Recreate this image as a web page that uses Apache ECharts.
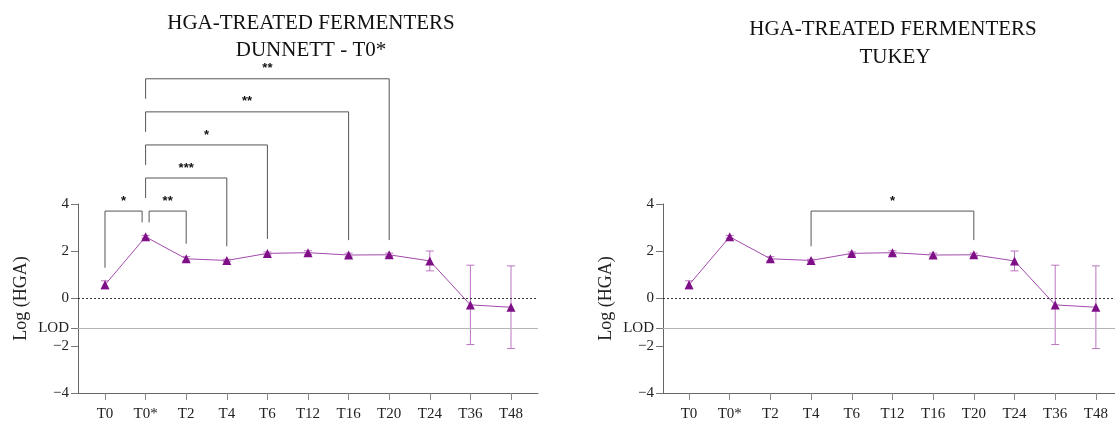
<!DOCTYPE html>
<html>
<head>
<meta charset="utf-8">
<title>HGA-treated fermenters</title>
<script src="https://cdn.jsdelivr.net/npm/echarts@6/dist/echarts.min.js"></script>
<style>
  html, body { margin: 0; padding: 0; background: #fff; }
  #chart { width: 1115px; height: 422px; }
</style>
</head>
<body>
<div id="chart"></div>
<script>
// Sampling times
const categories = ['T0', 'T0*', 'T2', 'T4', 'T6', 'T12', 'T16', 'T20', 'T24', 'T36', 'T48'];
// Mean log(HGA) and its spread at each time
const meanLog = [0.58, 2.61, 1.68, 1.61, 1.91, 1.94, 1.84, 1.85, 1.59, -0.27, -0.37];
const sdLog = [0.17, 0.06, 0.09, 0.05, 0.06, 0.08, 0.08, 0.07, 0.42, 1.68, 1.75];
// Limit of detection (log scale)
const lodLog = -1.27;
const yTicks = [-4, -2, 0, 2, 4];
// Significant comparisons: [from index, to index, stars]
const dunnettTests = [[0, 1, '*'], [1, 2, '**'], [1, 3, '***'], [1, 4, '*'], [1, 6, '**'], [1, 7, '**']];
const tukeyTests = [[3, 7, '*']];

const SERIF = '"Liberation Serif", "DejaVu Serif", serif';
const LINE_COLOR = '#a24aab';
const MARK_COLOR = '#7f0f86';
const ERR_COLOR = '#bb74c1';
const BRACKET_BASE = 3.7;   // y of the lowest bracket, in log units
const BRACKET_STEP = 1.4;   // spacing between stacked brackets

// Stack comparison brackets so overlapping spans sit on separate levels
function layoutBrackets(tests) {
  const items = tests.map(t => ({ from: t[0], to: t[1], label: t[2] }))
    .sort((a, b) => (a.to - a.from) - (b.to - b.from));
  const placed = [];
  items.forEach(b => {
    let level = 0;
    while (placed.some(p => p.level === level && Math.max(p.from, b.from) < Math.min(p.to, b.to))) level++;
    b.level = level;
    placed.forEach(p => {
      if (p.level === level && p.to === b.from) { p.shiftTo = true; b.shiftFrom = true; }
      if (p.level === level && p.from === b.to) { p.shiftFrom = true; b.shiftTo = true; }
    });
    b.shortFrom = placed.some(p => p.level < level && (p.from === b.from || p.to === b.from));
    b.shortTo = placed.some(p => p.level < level && (p.from === b.to || p.to === b.to));
    placed.push(b);
  });
  return placed;
}

function bracketSeries(tests, idx) {
  const layout = layoutBrackets(tests);
  return {
    type: 'custom', xAxisIndex: idx, yAxisIndex: idx, clip: false, silent: true, z: 5,
    data: layout.map(b => [b.from, b.to, BRACKET_BASE + b.level * BRACKET_STEP]),
    encode: { x: [0, 1], y: 2 },
    renderItem(params, api) {
      const b = layout[params.dataIndex];
      const barY = api.coord([0, api.value(2)])[1];
      let x1 = api.coord([b.from, 0])[0];
      let x2 = api.coord([b.to, 0])[0];
      if (b.shiftFrom) x1 += 3.5;
      if (b.shiftTo) x2 -= 3.5;
      const legEnd = i => api.coord([i, meanLog[i] + sdLog[i]])[1] - 13;
      const y1 = b.shortFrom ? barY + 20 : legEnd(b.from);
      const y2 = b.shortTo ? barY + 20 : legEnd(b.to);
      return {
        type: 'group',
        children: [
          { type: 'polyline', shape: { points: [[x1, y1], [x1, barY], [x2, barY], [x2, y2]] },
            style: { stroke: '#555', fill: null, lineWidth: 1 } },
          { type: 'text', x: (x1 + x2) / 2, y: barY - 10,
            style: { text: b.label, textAlign: 'center', textVerticalAlign: 'middle',
                     font: 'bold 13px "Liberation Sans", sans-serif', fill: '#111' } }
        ]
      };
    }
  };
}

function errorSeries(idx) {
  return {
    type: 'custom', xAxisIndex: idx, yAxisIndex: idx, silent: true, z: 3,
    data: meanLog.map((m, i) => [i, m - sdLog[i], m + sdLog[i]]),
    encode: { x: 0, y: [1, 2] },
    renderItem(params, api) {
      const lo = api.coord([api.value(0), api.value(1)]);
      const hi = api.coord([api.value(0), api.value(2)]);
      const w = 4;
      const st = { stroke: ERR_COLOR, lineWidth: 1 };
      return {
        type: 'group',
        children: [
          { type: 'line', shape: { x1: lo[0], y1: lo[1], x2: hi[0], y2: hi[1] }, style: st },
          { type: 'line', shape: { x1: lo[0] - w, y1: lo[1], x2: lo[0] + w, y2: lo[1] }, style: st },
          { type: 'line', shape: { x1: hi[0] - w, y1: hi[1], x2: hi[0] + w, y2: hi[1] }, style: st }
        ]
      };
    }
  };
}

function meanSeries(idx) {
  return {
    type: 'line', xAxisIndex: idx, yAxisIndex: idx, z: 4,
    data: meanLog.map((m, i) => [i, m]),
    symbol: 'triangle', symbolSize: 9, showSymbol: true,
    itemStyle: { color: MARK_COLOR },
    lineStyle: { color: LINE_COLOR, width: 1 },
    markLine: {
      silent: true, symbol: ['none', 'none'], label: { show: false },
      data: [
        { yAxis: 0, lineStyle: { type: [2, 2], color: '#333', width: 1 } },
        { yAxis: lodLog, lineStyle: { type: 'solid', color: '#b4b4b4', width: 1 } }
      ]
    }
  };
}

const idxTicks = categories.map((c, i) => i);

function xAxis(idx, min, max) {
  return {
    type: 'value', gridIndex: idx, min: min, max: max,
    splitLine: { show: false },
    axisLine: { show: true, onZero: false, lineStyle: { color: '#666', width: 1 } },
    axisTick: { show: true, length: 7, customValues: idxTicks, lineStyle: { color: '#888' } },
    axisLabel: { customValues: idxTicks, formatter: v => categories[Math.round(v)],
                 margin: 14, fontFamily: SERIF, fontSize: 15, color: '#222' }
  };
}

const yLabelVals = yTicks.concat([lodLog]);

function yAxis(idx) {
  return {
    type: 'value', gridIndex: idx, min: -4, max: 4,
    name: 'Log (HGA)', nameLocation: 'middle', nameRotate: 90, nameGap: 48,
    nameTextStyle: { fontFamily: SERIF, fontSize: 18, color: '#222' },
    splitLine: { show: false },
    axisLine: { show: true, onZero: false, lineStyle: { color: '#666', width: 1 } },
    axisTick: { show: true, length: 7, customValues: yLabelVals, lineStyle: { color: '#777' } },
    axisLabel: {
      customValues: yLabelVals, margin: 9, fontFamily: SERIF, fontSize: 15, color: '#222',
      formatter: v => Math.abs(v - lodLog) < 1e-6 ? 'LOD' : (v < 0 ? '\u2212' + Math.abs(v) : String(v))
    }
  };
}

function titleText(x, y, text) {
  return { type: 'text', x: x, y: y, silent: true,
    style: { text: text, textAlign: 'center', textVerticalAlign: 'middle',
             font: '21px ' + SERIF, fill: '#111' } };
}

const chart = echarts.init(document.getElementById('chart'), null, { renderer: 'canvas' });
chart.setOption({
  animation: false,
  backgroundColor: '#fff',
  grid: [
    { left: 78, top: 204, width: 460, height: 189 },
    { left: 663, top: 204, width: 452, height: 189 }
  ],
  xAxis: [xAxis(0, -0.665, 10.665), xAxis(1, -0.64, 10.47)],
  yAxis: [yAxis(0), yAxis(1)],
  graphic: [
    titleText(311, 23, 'HGA-TREATED FERMENTERS'),
    titleText(311, 50, 'DUNNETT - T0*'),
    titleText(893, 29, 'HGA-TREATED FERMENTERS'),
    titleText(895, 57, 'TUKEY')
  ],
  series: [
    errorSeries(0), meanSeries(0), bracketSeries(dunnettTests, 0),
    errorSeries(1), meanSeries(1), bracketSeries(tukeyTests, 1)
  ]
});
</script>
</body>
</html>
